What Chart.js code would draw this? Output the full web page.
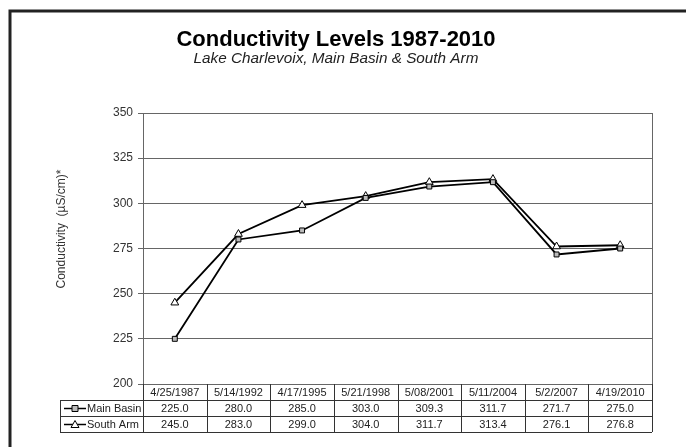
<!DOCTYPE html>
<html>
<head>
<meta charset="utf-8">
<script src="https://cdn.jsdelivr.net/npm/chart.js@4/dist/chart.umd.min.js"></script>
<style>
  html, body { margin: 0; padding: 0; background: #fff; }
  #wrap { width: 686px; height: 447px; position: relative; }
</style>
</head>
<body>
<div id="wrap"><canvas id="chart" width="686" height="447"></canvas></div>
<script>
const dates = ["4/25/1987", "5/14/1992", "4/17/1995", "5/21/1998", "5/08/2001", "5/11/2004", "5/2/2007", "4/19/2010"];
const mainBasin = [225.0, 280.0, 285.0, 303.0, 309.3, 311.7, 271.7, 275.0];
const southArm = [245.0, 283.0, 299.0, 304.0, 311.7, 313.4, 276.1, 276.8];
const yTicks = [200, 225, 250, 275, 300, 325, 350];

const titleText = "Conductivity Levels 1987-2010";
const subtitleText = "Lake Charlevoix, Main Basin & South Arm";
const yLabel = "Conductivity  (\u00b5S/cm)*";

const FONT = "'Liberation Sans', Arial, sans-serif";

// draws the little marker used in the legend cells
const drawMarker = (ctx, style, x, y) => {
  ctx.save();
  ctx.fillStyle = style === "rect" ? "#bbb" : "#fff";
  ctx.strokeStyle = "#000";
  ctx.lineWidth = 1;
  ctx.beginPath();
  if (style === "rect") {
    ctx.rect(x - 3, y - 3, 6, 6);
  } else {
    ctx.moveTo(x, y - 4);
    ctx.lineTo(x + 4, y + 3);
    ctx.lineTo(x - 4, y + 3);
    ctx.closePath();
  }
  ctx.fill();
  ctx.stroke();
  ctx.restore();
};

const extras = {
  id: "extras",
  afterDraw(chart) {
    const ctx = chart.ctx;
    const area = chart.chartArea;
    const xs = chart.scales.x;

    ctx.save();
    // outer frame (left + top only)
    ctx.strokeStyle = "#222";
    ctx.lineWidth = 3;
    ctx.beginPath();
    ctx.moveTo(10, 447);
    ctx.lineTo(10, 11);
    ctx.lineTo(686, 11);
    ctx.stroke();

    // titles
    ctx.fillStyle = "#000";
    ctx.textAlign = "center";
    ctx.textBaseline = "alphabetic";
    ctx.font = "bold 22px " + FONT;
    ctx.fillText(titleText, 336, 46);
    ctx.font = "italic 15.3px " + FONT;
    ctx.fillStyle = "#222";
    ctx.fillText(subtitleText, 336, 63);

    // y axis title
    ctx.save();
    ctx.translate(62, 229);
    ctx.rotate(-Math.PI / 2);
    ctx.font = "12px " + FONT;
    ctx.fillStyle = "#333";
    ctx.textBaseline = "middle";
    ctx.fillText(yLabel, 0, 0);
    ctx.restore();

    // plot frame right side
    ctx.strokeStyle = "#666";
    ctx.lineWidth = 1;
    ctx.beginPath();
    ctx.moveTo(area.right + 0.5, area.top);
    ctx.lineTo(area.right + 0.5, area.bottom);
    ctx.stroke();

    // data table
    const rowH = 16;
    const top = area.bottom;
    const legendLeft = 60;
    const n = dates.length;
    const colW = (area.right - area.left) / n;
    ctx.strokeStyle = "#333";
    ctx.lineWidth = 1;
    ctx.beginPath();
    for (let r = 1; r <= 3; r++) {
      const y = Math.round(top + r * rowH) + 0.5;
      ctx.moveTo(legendLeft, y);
      ctx.lineTo(area.right, y);
    }
    for (let i = 0; i <= n; i++) {
      const x = Math.round(area.left + i * colW) + 0.5;
      ctx.moveTo(x, top);
      ctx.lineTo(x, top + 3 * rowH);
    }
    ctx.moveTo(legendLeft + 0.5, top + rowH);
    ctx.lineTo(legendLeft + 0.5, top + 3 * rowH);
    ctx.stroke();

    ctx.fillStyle = "#222";
    ctx.font = "11px " + FONT;
    ctx.textAlign = "center";
    ctx.textBaseline = "middle";
    dates.forEach((d, i) => {
      const cx = xs.getPixelForValue(i);
      ctx.fillText(d, cx, top + rowH * 0.5 + 0.5);
      ctx.fillText(mainBasin[i].toFixed(1), cx, top + rowH * 1.5 + 0.5);
      ctx.fillText(southArm[i].toFixed(1), cx, top + rowH * 2.5 + 0.5);
    });

    // legend cells
    chart.data.datasets.forEach((ds, k) => {
      const cy = top + rowH * (1.5 + k) + 0.5;
      ctx.strokeStyle = "#000";
      ctx.lineWidth = 1.5;
      ctx.beginPath();
      ctx.moveTo(64, cy);
      ctx.lineTo(86, cy);
      ctx.stroke();
      drawMarker(ctx, ds.pointStyle, 75, cy);
      ctx.fillStyle = "#222";
      ctx.textAlign = "left";
      ctx.fillText(ds.label, 87, cy);
    });
    ctx.restore();
  },
};

new Chart(document.getElementById("chart"), {
  type: "line",
  data: {
    labels: dates,
    datasets: [
      {
        label: "Main Basin",
        data: mainBasin,
        borderColor: "#000",
        borderWidth: 1.8,
        pointStyle: "rect",
        pointRadius: 3.5,
        pointBackgroundColor: "#bbb",
        pointBorderColor: "#000",
        pointBorderWidth: 1,
        tension: 0,
      },
      {
        label: "South Arm",
        data: southArm,
        borderColor: "#000",
        borderWidth: 1.8,
        pointStyle: "triangle",
        pointRadius: 4.5,
        pointBackgroundColor: "#fff",
        pointBorderColor: "#000",
        pointBorderWidth: 1,
        tension: 0,
      },
    ],
  },
  options: {
    responsive: false,
    animation: false,
    layout: { padding: { left: 0, top: 113, right: 34, bottom: 63 } },
    plugins: {
      legend: { display: false },
      title: { display: false },
      tooltip: { enabled: false },
    },
    scales: {
      x: {
        type: "category",
        offset: true,
        display: false,
      },
      y: {
        min: 200,
        max: 350,
        afterFit: (scale) => { scale.width = 143; },
        afterBuildTicks: (scale) => { scale.ticks = yTicks.map((v) => ({ value: v })); },
        ticks: {
          color: "#333",
          font: { family: FONT, size: 12 },
          padding: 5,
        },
        grid: {
          color: "#666",
          lineWidth: 1,
          tickLength: 5,
          drawTicks: true,
        },
        border: { color: "#666", width: 1 },
      },
    },
  },
  plugins: [extras],
});
</script>
</body>
</html>
